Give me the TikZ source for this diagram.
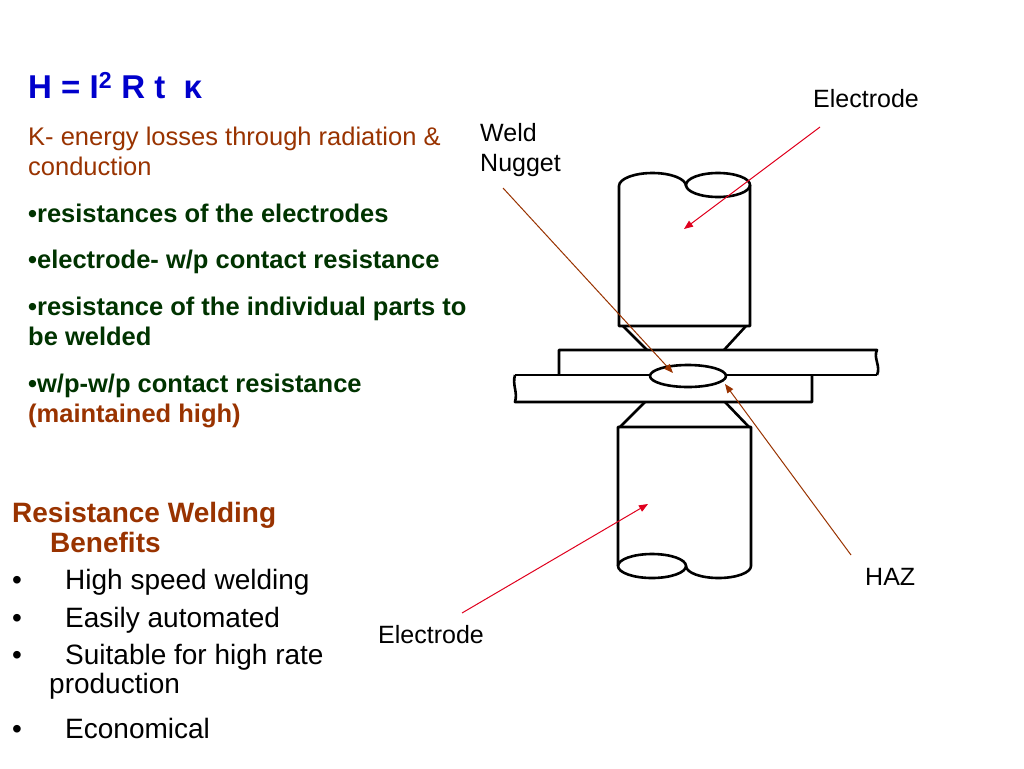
\documentclass[tikz,border=0pt]{standalone}
\usepackage{fontspec}
\setmainfont{Liberation Sans}
\usetikzlibrary{arrows.meta}
\definecolor{formblue}{HTML}{0000CC}
\definecolor{rust}{HTML}{993300}
\definecolor{leaf}{HTML}{003300}
\definecolor{pointer}{HTML}{E0001E}
\begin{document}
\begin{tikzpicture}[x=1pt, y=-1pt,
  txt/.style = {anchor=base west, inner sep=0pt, font=\fontsize{25.5}{30}\selectfont},
  big/.style = {anchor=base west, inner sep=0pt, font=\fontsize{28}{30}\selectfont},
  part/.style = {draw, line width=2.6pt, line join=round},
  redptr/.style = {draw=pointer, line width=1pt, -{Triangle[length=9pt,width=7pt]}},
  brnptr/.style = {draw=rust, line width=1pt, -{Triangle[length=9pt,width=7pt]}}]
\fill[white] (0,0) rectangle (1024,768);
\useasboundingbox (0,0) rectangle (1024,768);

% heat formula and its terms
\node[anchor=base west, inner sep=0pt, text=formblue, font=\bfseries\fontsize{33}{36}\selectfont] (heat) at (28,98) {H = I\textsuperscript{2} R t \ κ};
\node[txt, text=rust] (loss1) at (28,145) {K- energy losses through radiation \&};
\node[txt, text=rust] (loss2) at (28,175) {conduction};
\node[txt, text=leaf, font=\bfseries\fontsize{25.5}{30}\selectfont] (res1) at (28,222) {•resistances of the electrodes};
\node[txt, text=leaf, font=\bfseries\fontsize{25.5}{30}\selectfont] (res2) at (28,268) {•electrode- w/p contact resistance};
\node[txt, text=leaf, font=\bfseries\fontsize{25.5}{30}\selectfont] (res3) at (28,315) {•resistance of the individual parts to};
\node[txt, text=leaf, font=\bfseries\fontsize{25.5}{30}\selectfont] (res3b) at (28,345) {be welded};
\node[txt, text=leaf, font=\bfseries\fontsize{25.5}{30}\selectfont] (res4) at (28,392) {•w/p-w/p contact resistance};
\node[txt, text=rust, font=\bfseries\fontsize{25.5}{30}\selectfont] (res4b) at (28,422) {(maintained high)};

% benefits
\node[big, text=rust, font=\bfseries\fontsize{28}{30}\selectfont] (ben1) at (12,522) {Resistance Welding};
\node[big, text=rust, font=\bfseries\fontsize{28}{30}\selectfont] (ben2) at (50,552) {Benefits};
\node[big] (b1) at (12,589) {•};
\node[big] (speed) at (65,589) {High speed welding};
\node[big] (b2) at (12,627) {•};
\node[big] (auto) at (65,627) {Easily automated};
\node[big] (b3) at (12,664) {•};
\node[big] (rate) at (65,664) {Suitable for high rate};
\node[big] (rateb) at (49,693) {production};
\node[big] (b4) at (12,738) {•};
\node[big] (econ) at (65,738) {Economical};

% labels of the sketch
\node[txt, font=\fontsize{25}{30}\selectfont] (elecTop) at (813,107) {Electrode};
\node[txt, font=\fontsize{25}{30}\selectfont] (weld) at (480,141) {Weld};
\node[txt, font=\fontsize{25}{30}\selectfont] (nug) at (480,171) {Nugget};
\node[txt, font=\fontsize{25}{30}\selectfont] (haz) at (865,585) {HAZ};
\node[txt, font=\fontsize{25}{30}\selectfont] (elecBot) at (378,643) {Electrode};

% upper electrode
\draw[part] (750,185) -- (750,326) -- (619,326) -- (619,186)
  arc[start angle=180, end angle=360, x radius=33.5, y radius=13];
\draw[part] (718,185) ellipse[x radius=32, y radius=12];
\draw[part] (623,326) -- (647,350);
\draw[part] (746,326) -- (724,350);
% sheets
\draw[part] (559,375) -- (559,350) -- (877,350) .. controls (873,358) and (881,366) .. (877,375);
\draw[part] (515,375) -- (877,375);
\draw[part] (812,375) -- (812,402) -- (515,402) .. controls (518,392) and (512,385) .. (515,375);
\draw[part, fill=white] (688,376) ellipse[x radius=38, y radius=11];
% lower electrode
\draw[part] (645,402) -- (620,427);
\draw[part] (725,402) -- (749,427);
\draw[part] (686,566) arc[start angle=180, end angle=0, x radius=32.5, y radius=12]
  -- (751,427) -- (618,427) -- (618,566);
\draw[part] (652,566) ellipse[x radius=34, y radius=12];

% pointers
\coordinate (t1) at (820,127);
\coordinate (h1) at (684,229);
\coordinate (t2) at (503,188);
\coordinate (h2) at (673,373);
\coordinate (t3) at (851,555);
\coordinate (h3) at (725,384);
\coordinate (t4) at (462,613);
\coordinate (h4) at (648,504);
\draw[redptr] (t1) -- (h1);
\draw[brnptr] (t2) -- (h2);
\draw[brnptr] (t3) -- (h3);
\draw[redptr] (t4) -- (h4);
\end{tikzpicture}
\end{document}
